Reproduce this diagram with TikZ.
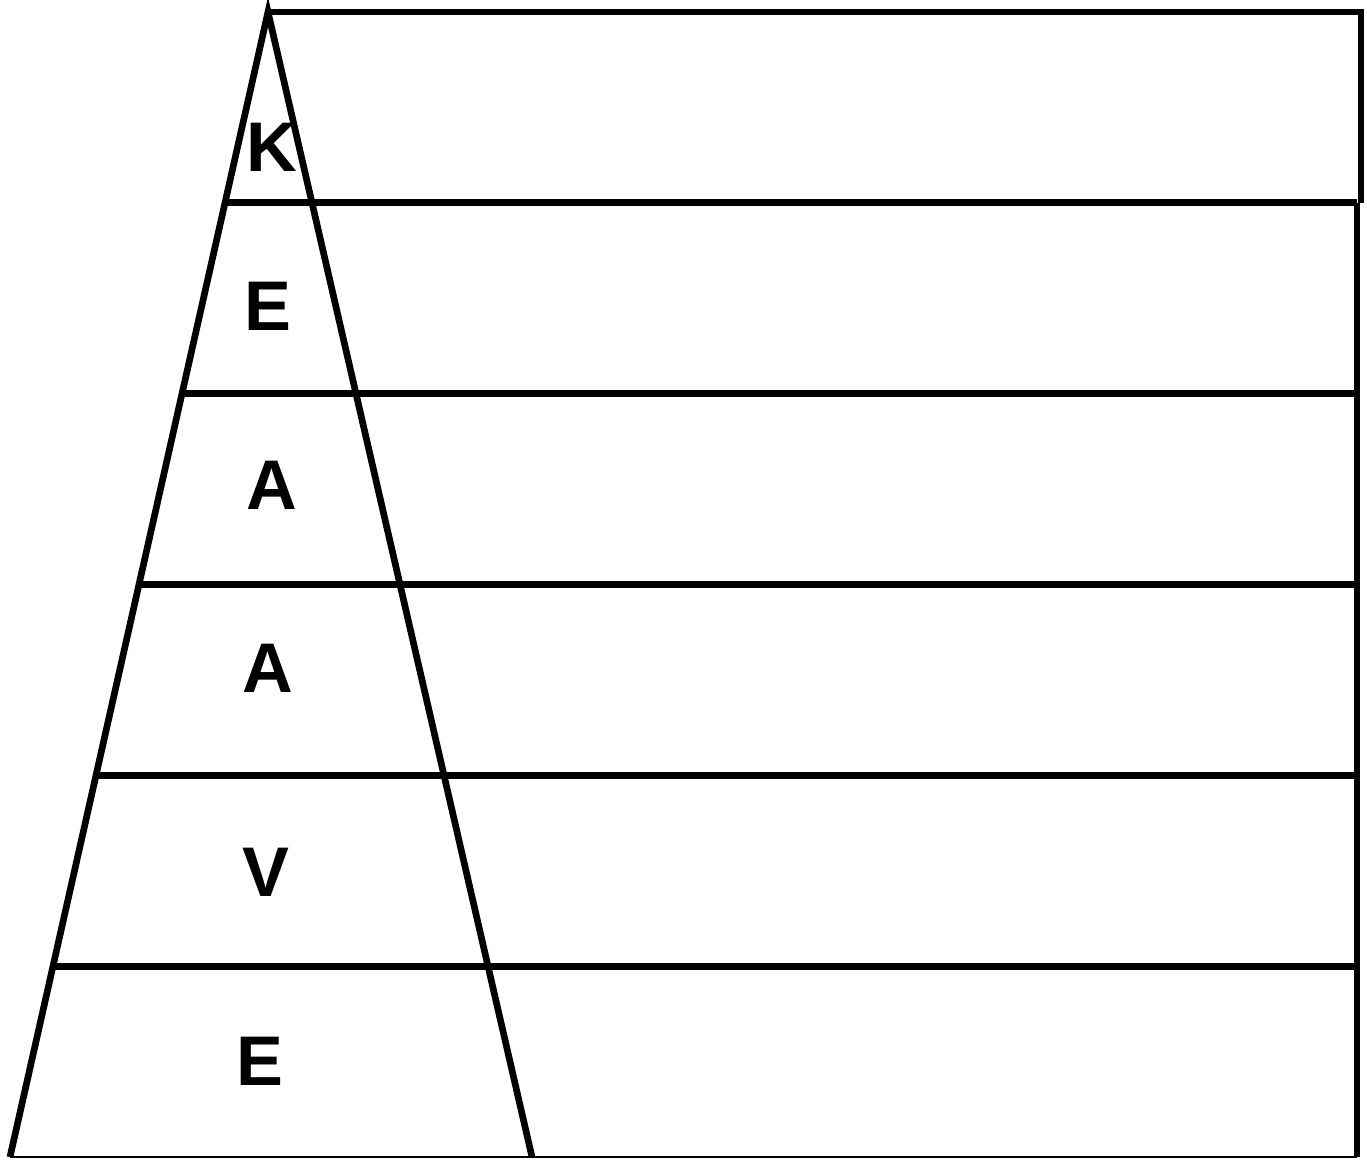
\documentclass[tikz,border=0pt]{standalone}
\usepackage{fontspec}
\setmainfont{Liberation Sans}
\usetikzlibrary{calc}
\begin{document}
\begin{tikzpicture}[x=0.02cm,y=-0.02cm,
        edge/.style={draw, line width=3.8pt, line join=miter},
        base/.style={draw, line width=1pt},
        letter/.style={font=\fontsize{40}{40}\selectfont\bfseries, inner sep=0pt}
    ]
        \useasboundingbox (0,0) rectangle (1367,1160);

        % Pyramid
        \coordinate (apex) at (268,12);
        \coordinate (bl) at (10,1157);
        \coordinate (br) at (532,1157);
        \coordinate (right) at (1357,1157);
        \draw[edge] (bl) -- (apex) -- (br);
        \draw[base] (bl) -- (right);

        % Top box
        \draw[edge] (apex) -- (1361,12) -- (1361,203);

        % Rows
        \foreach \k in {1,...,5}{
            \coordinate (l\k) at ($(apex)!\k/6!(bl)$);
            \draw[edge] (l\k) -- (l\k -| right);
        }
        \draw[edge] (l1 -| right) -- (right);

        % Letters
        \node[letter] (k) at (272,147) {K};
        \node[letter] (e1) at (268,306) {E};
        \node[letter] (a1) at (272,485) {A};
        \node[letter] (a2) at (268,668) {A};
        \node[letter] (v) at (266,872) {V};
        \node[letter] (e2) at (260,1061) {E};
    \end{tikzpicture}
\end{document}
